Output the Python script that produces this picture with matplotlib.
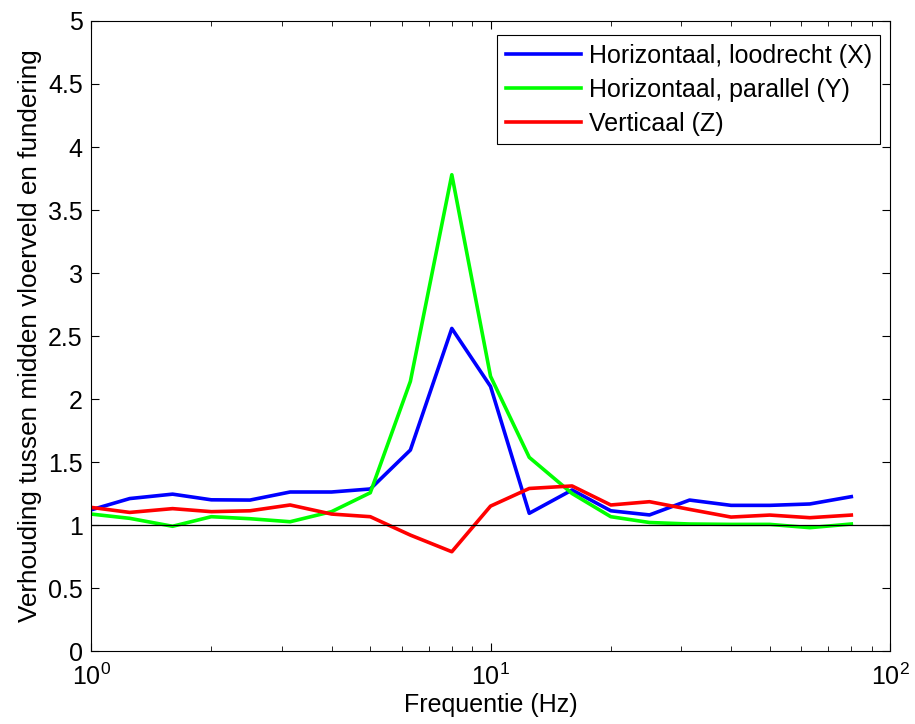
import matplotlib
matplotlib.use("Agg")
import matplotlib.pyplot as plt
import numpy as np

freq = [1, 1.25, 1.6, 2, 2.5, 3.15, 4, 5, 6.3, 8, 10, 12.5, 16, 20, 25, 31.5, 40, 50, 63, 80]
x_perp = [1.12, 1.21, 1.245, 1.20, 1.198, 1.262, 1.262, 1.286, 1.595, 2.56, 2.10, 1.093, 1.278, 1.113, 1.08, 1.198, 1.156, 1.156, 1.167, 1.225]
y_par = [1.087, 1.053, 0.99, 1.066, 1.05, 1.026, 1.106, 1.256, 2.14, 3.78, 2.18, 1.537, 1.25, 1.066, 1.02, 1.008, 1.005, 1.005, 0.979, 1.008]
z_vert = [1.14, 1.10, 1.13, 1.106, 1.113, 1.159, 1.087, 1.066, 0.92, 0.788, 1.15, 1.29, 1.31, 1.159, 1.185, 1.124, 1.063, 1.079, 1.058, 1.079]
labels = ["Horizontaal, loodrecht (X)", "Horizontaal, parallel (Y)", "Verticaal (Z)"]
yticks = [0, 0.5, 1, 1.5, 2, 2.5, 3, 3.5, 4, 4.5, 5]
ytick_labels = ['0', '0.5', '1', '1.5', '2', '2.5', '3', '3.5', '4', '4.5', '5']

plt.rcParams['font.family'] = ['Liberation Sans', 'DejaVu Sans']
plt.rcParams['mathtext.fontset'] = 'custom'
plt.rcParams['mathtext.rm'] = 'Liberation Sans'
plt.rcParams['mathtext.it'] = 'Liberation Sans'

FS = 18
fig = plt.figure(figsize=(9.15, 7.24), dpi=100)
ax = fig.add_axes([0.0995, 0.1008, 0.8732, 0.8702])

ax.plot(freq, x_perp, color='#0000ff', lw=2.6, label=labels[0])
ax.plot(freq, y_par, color='#00ff00', lw=2.6, label=labels[1])
ax.plot(freq, z_vert, color='#ff0000', lw=2.6, label=labels[2])
ax.axhline(1, color='black', lw=0.9)

ax.set_xscale('log')
ax.set_xlim(1, 100)
ax.set_ylim(0, 5)
ax.set_yticks(yticks)
ax.set_yticklabels(ytick_labels)
ax.tick_params(which='both', direction='in', top=True, right=True)
ax.tick_params(which='major', length=6)
ax.tick_params(which='minor', length=3.5)
ax.tick_params(axis='y', pad=6, labelsize=FS)
ax.tick_params(axis='x', pad=9, labelsize=FS)
ax.set_xlabel('Frequentie (Hz)', fontsize=FS, labelpad=2)
ax.set_ylabel('Verhouding tussen midden vloerveld en fundering', fontsize=18.8, labelpad=4)

leg = ax.legend(loc='upper right', fontsize=FS, handlelength=3.0, handletextpad=0.3,
                fancybox=False, edgecolor='black', framealpha=1,
                bbox_to_anchor=(0.988, 0.978), borderaxespad=0, labelspacing=0.4,
                borderpad=0.35)
leg.get_frame().set_linewidth(0.8)

fig.savefig('out.png', dpi=100)
